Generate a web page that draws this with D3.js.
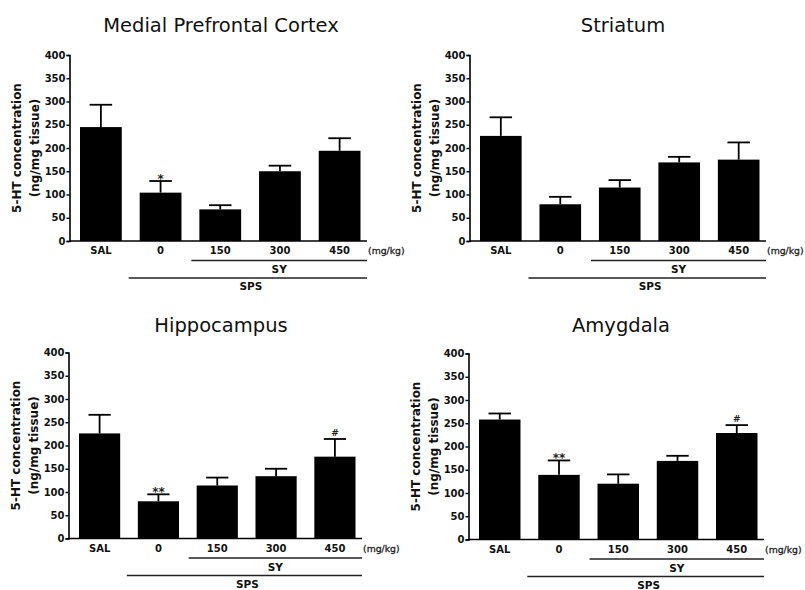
<!DOCTYPE html>
<html>
<head>
<meta charset="utf-8">
<script src="https://cdn.jsdelivr.net/npm/d3@7"></script>
<style>
  body { margin: 0; background: #fff; }
  svg { display: block; font-family: "DejaVu Sans", Verdana, sans-serif; }
</style>
</head>
<body>
<svg width="805" height="590"></svg>
<script>
// groups and ticks
const groups = ['SAL', '0', '150', '300', '450'];
const yTicks = [0, 50, 100, 150, 200, 250, 300, 350, 400];

// mean values and SEM
const mpfcMean = [245, 104, 68, 150, 194];
const mpfcErr = [48, 25, 9, 12, 27];
const mpfcMarks = ['', '*', '', '', ''];

const striatumMean = [226, 79, 115, 169, 175];
const striatumErr = [40, 16, 16, 12, 37];
const striatumMarks = ['', '', '', '', ''];

const hippoMean = [226, 80, 114, 134, 176];
const hippoErr = [40, 15, 17, 16, 38];
const hippoMarks = ['', '**', '', '', '#'];

const amygMean = [258, 139, 120, 169, 229];
const amygErr = [13, 31, 20, 11, 17];
const amygMarks = ['', '**', '', '', '#'];

const panels = [
  { title: 'Medial Prefrontal Cortex', mean: mpfcMean, err: mpfcErr, marks: mpfcMarks, x0: 69.5, x1: 367, y0: 55, y1: 241, tx: 221, ty: 32 },
  { title: 'Striatum', mean: striatumMean, err: striatumErr, marks: striatumMarks, x0: 469.5, x1: 766, y0: 55, y1: 241, tx: 623, ty: 32 },
  { title: 'Hippocampus', mean: hippoMean, err: hippoErr, marks: hippoMarks, x0: 68.5, x1: 362, y0: 352.5, y1: 538.5, tx: 221, ty: 332 },
  { title: 'Amygdala', mean: amygMean, err: amygErr, marks: amygMarks, x0: 468.5, x1: 764, y0: 353.5, y1: 539.5, tx: 621, ty: 332 }
];

const svg = d3.select('svg');

const drawPanel = (p) => {
  const g = svg.append('g');

  const x = d3.scaleBand()
    .domain(groups)
    .range([p.x0 + 10.5, p.x1 - 6.5])
    .paddingInner(0.3)
    .paddingOuter(0);

  const y = d3.scaleLinear()
    .domain([0, 400])
    .range([p.y1, p.y0]);

  const rows = groups.map((k, i) => ({ k: k, v: p.mean[i], e: p.err[i], m: p.marks[i] }));

  // title
  g.append('text')
    .attr('x', p.tx)
    .attr('y', p.ty)
    .attr('text-anchor', 'middle')
    .attr('font-size', '19.5px')
    .attr('fill', '#111')
    .text(p.title);

  // error bars (upper only)
  const bw = x.bandwidth();
  g.selectAll('.eb')
    .data(rows)
    .enter()
    .append('line')
    .attr('x1', (d) => x(d.k) + bw / 2)
    .attr('x2', (d) => x(d.k) + bw / 2)
    .attr('y1', (d) => y(d.v))
    .attr('y2', (d) => y(d.v + d.e))
    .attr('stroke', '#000')
    .attr('stroke-width', 1.8);

  g.selectAll('.cap')
    .data(rows)
    .enter()
    .append('line')
    .attr('x1', (d) => x(d.k) + bw / 2 - bw * 0.27)
    .attr('x2', (d) => x(d.k) + bw / 2 + bw * 0.27)
    .attr('y1', (d) => y(d.v + d.e))
    .attr('y2', (d) => y(d.v + d.e))
    .attr('stroke', '#000')
    .attr('stroke-width', 1.8);

  // bars
  g.selectAll('rect')
    .data(rows)
    .enter()
    .append('rect')
    .attr('x', (d) => x(d.k))
    .attr('y', (d) => y(d.v))
    .attr('width', bw)
    .attr('height', (d) => y(0) - y(d.v))
    .attr('fill', '#000');

  // significance marks
  g.selectAll('.mark')
    .data(rows.filter((d) => d.m !== ''))
    .enter()
    .append('text')
    .attr('x', (d) => x(d.k) + bw / 2)
    .attr('y', (d) => y(d.v + d.e) + (d.m === '#' ? -3 : 2))
    .attr('text-anchor', 'middle')
    .attr('font-size', (d) => (d.m === '#' ? '9px' : '12px'))
    .attr('font-weight', 'bold')
    .attr('fill', '#222')
    .text((d) => d.m);

  // axes
  const yAxis = d3.axisLeft(y).tickValues(yTicks).tickSize(3).tickPadding(1);
  const ya = g.append('g')
    .attr('transform', `translate(${p.x0},0)`)
    .call(yAxis);

  const xAxis = d3.axisBottom(x).tickSize(0).tickPadding(6);
  const xa = g.append('g')
    .attr('transform', `translate(0,${p.y1})`)
    .call(xAxis);
  xa.select('.domain').attr('d', `M${p.x0},0H${p.x1}`);

  [ya, xa].forEach((a) => {
    a.select('.domain').attr('stroke', '#000').attr('stroke-width', 1.6);
    a.selectAll('.tick line').attr('stroke', '#000').attr('stroke-width', 1.4);
    a.selectAll('.tick text')
      .attr('font-family', '"DejaVu Sans", Verdana, sans-serif')
      .attr('font-size', '10px')
      .attr('font-weight', 'bold')
      .attr('fill', '#111');
  });

  // unit label
  g.append('text')
    .attr('x', p.x1 + 1)
    .attr('y', p.y1 + 13)
    .attr('font-size', '9.3px')
    .attr('fill', '#222')
    .attr('stroke', '#222')
    .attr('stroke-width', 0.3)
    .text('(mg/kg)');

  // group bracket lines
  const syStart = x('150') - 8;
  const spsStart = x('0') - 11;
  g.append('line')
    .attr('x1', syStart).attr('x2', p.x1)
    .attr('y1', p.y1 + 19.5).attr('y2', p.y1 + 19.5)
    .attr('stroke', '#222').attr('stroke-width', 1.3);
  g.append('text')
    .attr('x', (syStart + p.x1) / 2)
    .attr('y', p.y1 + 32)
    .attr('text-anchor', 'middle')
    .attr('font-size', '10.5px')
    .attr('font-weight', 'bold')
    .attr('fill', '#111')
    .text('SY');
  g.append('line')
    .attr('x1', spsStart).attr('x2', p.x1)
    .attr('y1', p.y1 + 37).attr('y2', p.y1 + 37)
    .attr('stroke', '#222').attr('stroke-width', 1.3);
  g.append('text')
    .attr('x', (spsStart + p.x1) / 2 + 3)
    .attr('y', p.y1 + 49)
    .attr('text-anchor', 'middle')
    .attr('font-size', '10.5px')
    .attr('font-weight', 'bold')
    .attr('fill', '#111')
    .text('SPS');

  // y-axis label
  const cy = (p.y0 + p.y1) / 2;
  const lab = g.append('g')
    .attr('font-size', '12px')
    .attr('font-weight', 'bold')
    .attr('fill', '#111')
    .attr('text-anchor', 'middle');
  lab.append('text')
    .attr('transform', `translate(${p.x0 - 49},${cy}) rotate(-90)`)
    .text('5-HT concentration');
  lab.append('text')
    .attr('transform', `translate(${p.x0 - 31},${cy}) rotate(-90)`)
    .text('(ng/mg tissue)');
};

panels.forEach(drawPanel);
</script>
</body>
</html>
